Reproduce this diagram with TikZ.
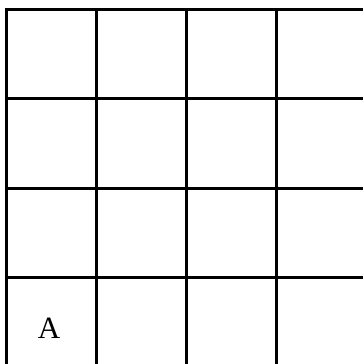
\documentclass[tikz,border=0pt]{standalone}
\usepackage{fontspec}
\setmainfont{Liberation Serif}
\begin{document}
\begin{tikzpicture}[x=1pt,y=-1pt,gridline/.style={line width=3pt,black,line cap=rect}]
\useasboundingbox (0,0) rectangle (363,364);
\clip (0,0) rectangle (363,364);
\foreach \i in {0,...,4} {
  \draw[gridline] (6+90*\i,9) -- (6+90*\i,370);
  \draw[gridline] (6,9+89.5*\i) -- (370,9+89.5*\i);
}
\node[font=\fontsize{31}{34}\selectfont,inner sep=0pt] (a) at (49,328) {A};
\end{tikzpicture}
\end{document}
